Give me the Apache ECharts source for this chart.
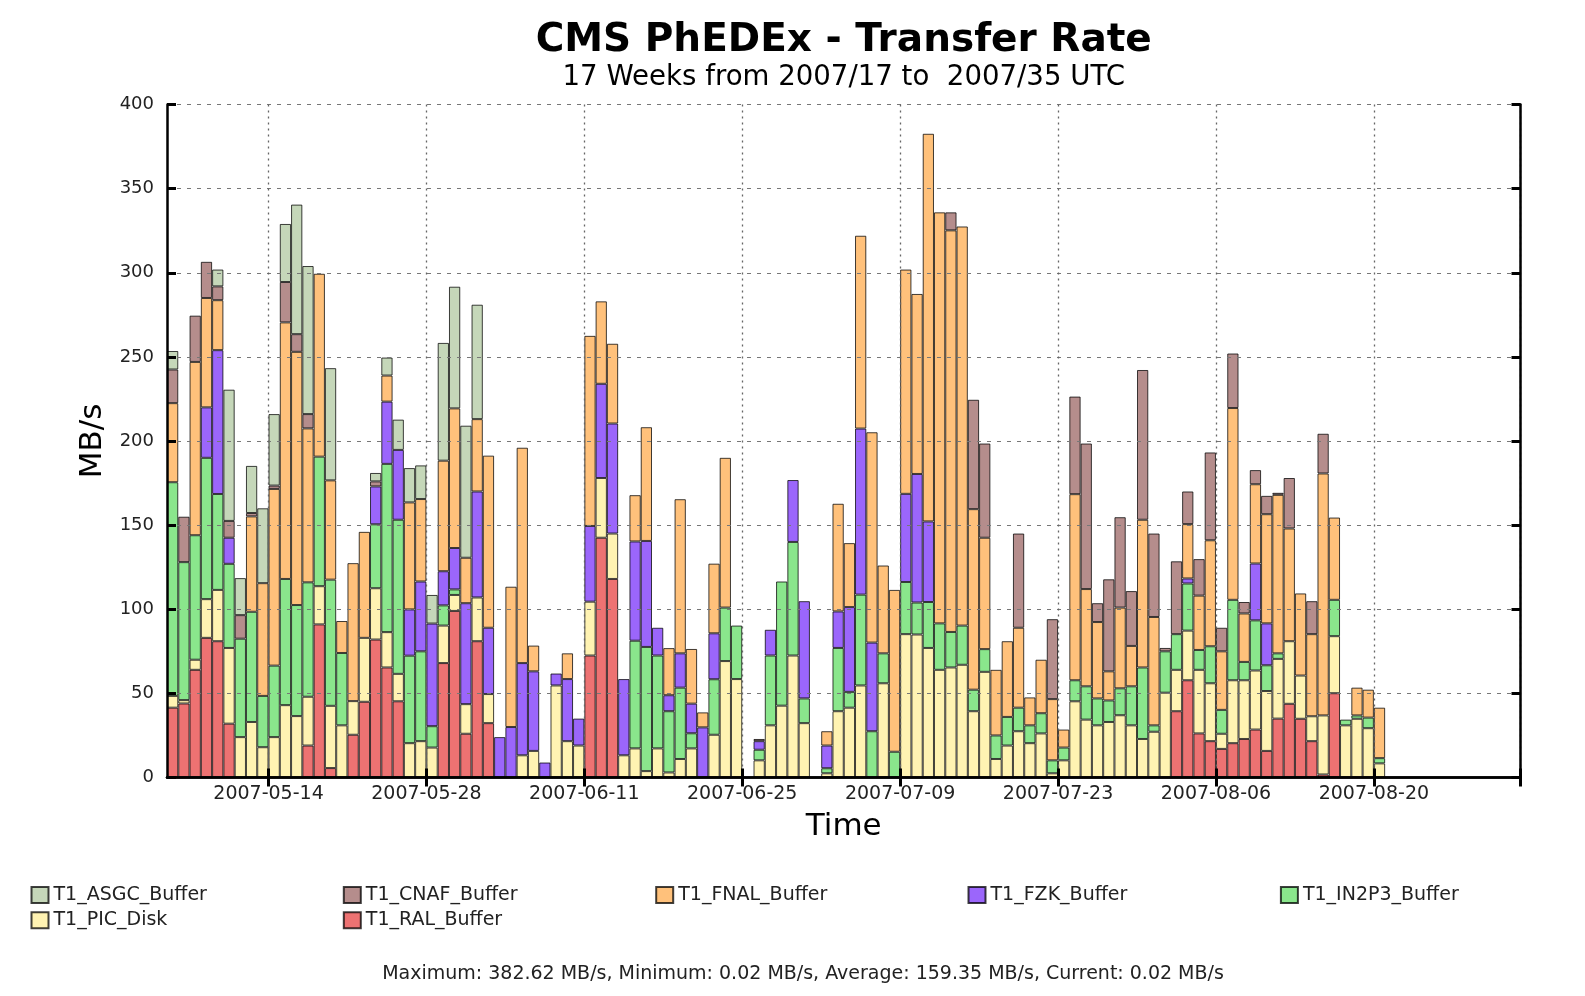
<!DOCTYPE html>
<html>
<head>
<meta charset="utf-8">
<title>CMS PhEDEx - Transfer Rate</title>
<script src="https://cdn.jsdelivr.net/npm/echarts@6/dist/echarts.min.js"></script>
<style>
  html, body { margin: 0; padding: 0; background: #fff; }
  #chart { width: 1585px; height: 996px; }
</style>
</head>
<body>
<div id="chart"></div>
<script>
// one bar per day, 2007-05-05 .. 2007-09-01
const firstDay = [2007, 4, 5];
const dayCount = 120;
const tickLabels = ['2007-05-14', '2007-05-28', '2007-06-11', '2007-06-25',
                    '2007-07-09', '2007-07-23', '2007-08-06', '2007-08-20'];
const legendNames = ['T1_ASGC_Buffer', 'T1_CNAF_Buffer', 'T1_FNAL_Buffer', 'T1_FZK_Buffer',
                     'T1_IN2P3_Buffer', 'T1_PIC_Disk', 'T1_RAL_Buffer'];
const footerText = 'Maximum: 382.62 MB/s, Minimum: 0.02 MB/s, Average: 159.35 MB/s, Current: 0.02 MB/s';

// MB/s per site, per day
const ral = [
  41.5, 44, 64, 83, 81, 32, 0, 0, 0, 0,
  0, 0, 19, 91, 5.6, 0, 25.4, 45, 82, 65.4,
  45.3, 0, 0, 0, 68, 99, 26, 81, 32.3, 0,
  0, 0, 0, 0, 0, 0, 0, 72.5, 142.5, 118,
  0, 0, 0, 0, 0, 0, 0, 0, 0, 0,
  0, 0, 0, 0, 0, 0, 0, 0, 0, 0,
  0, 0, 0, 0, 0, 0, 0, 0, 0, 0,
  0, 0, 0, 0, 0, 0, 0, 0, 0, 0,
  0, 0, 0, 0, 0, 0, 0, 0, 0, 39.4,
  57.8, 26.2, 21.6, 17, 20.4, 22.9, 28.5, 15.8, 35, 43.8,
  34.9, 21.6, 1.8, 50.1, 0, 0, 0, 0, 0, 0,
  0, 0, 0, 0, 0, 0, 0, 0, 0, 0
];
const pic = [
  7, 2, 6, 23, 30.5, 45, 24, 33, 18, 24,
  43, 36.5, 29, 22.7, 37, 31, 20, 38, 30.5, 21,
  16.3, 20.4, 21.6, 17.8, 22.3, 9.5, 17.6, 26, 17.3, 0,
  0, 13.2, 15.8, 0, 54.7, 21.6, 19, 32, 35.5, 27,
  13.2, 17.3, 3.8, 17.3, 3, 11, 17.3, 0, 25.4, 69.2,
  58.5, 0, 10.2, 31, 42.7, 72.5, 32.3, 0.02, 2.5, 39.4,
  41.5, 54.7, 0, 56, 0, 85.2, 85, 77, 64, 65.4,
  67, 39.4, 62.8, 11, 19, 27.5, 20.4, 26.2, 2.5, 10.2,
  45.3, 34.4, 31, 33, 37, 31, 22.9, 27.2, 50.4, 24.6,
  29.5, 37.8, 34.4, 9, 37.4, 34.9, 35.1, 35.6, 35.5, 37.2,
  25.7, 14.8, 35.1, 33.9, 31, 34.9, 29.3, 8.4, 0, 0,
  0, 0.02, 0, 0, 0, 0, 0, 0.02, 0.02, 0
];
const in2p3 = [
  127, 82, 74, 84, 57, 50, 58.5, 65.5, 30.5, 42.5,
  75, 66, 68, 77, 75, 43, 0, 0, 38, 100,
  91.6, 52, 53.4, 12.7, 12, 3.3, 0, 0, 0, 0,
  0, 0, 0, 0, 0, 0, 0, 0, 0, 0,
  0, 64, 73.8, 55.2, 36.4, 42.4, 9, 0, 33, 31.8,
  31.8, 0, 6.3, 41.5, 73.8, 67.5, 14.7, 0, 3, 37.6,
  9.4, 54, 27.5, 17.8, 15.3, 31, 19, 27.3, 27.6, 21.1,
  23.3, 12.8, 13.5, 14, 17, 14, 10.6, 12, 7.7, 7.6,
  12.5, 19.8, 16, 12.8, 16, 23.2, 42.5, 3.8, 24.6, 21.2,
  28, 11.8, 22, 14.2, 47.8, 10.9, 29.8, 15.3, 3.3, 0,
  0, 0, 0, 21.6, 3.4, 2, 6.3, 3.1, 0, 0,
  0, 0, 0, 0, 0, 0, 0, 0, 0, 0
];
const fzk = [
  0, 0, 0, 30, 85.5, 15.5, 0, 0, 0, 0,
  0, 0, 0, 0, 0, 0, 0, 0, 22.5, 37,
  41.5, 27.5, 41.5, 61, 20.3, 24.6, 60, 63, 39.4, 24,
  30, 54.8, 47.3, 8.9, 7.1, 36.9, 16, 45, 56, 65.4,
  45.3, 59, 63, 16.5, 9.5, 20.4, 17.6, 29.8, 27.3, 0,
  0, 0, 5.1, 15.3, 0, 36.8, 57.8, 0, 13.5, 21.7,
  50.4, 98.7, 52.7, 0, 0, 52.4, 76.4, 47.9, 0, 0,
  0, 0, 0, 0, 0, 0, 0, 0, 0, 0,
  0, 0, 0, 0, 0, 0, 0, 0, 0, 0,
  3, 0, 0, 0, 0, 0, 33.8, 24.9, 0, 0,
  0, 0, 0, 0, 0, 0, 0, 0, 0, 0,
  0, 0, 0, 0, 0, 0, 0, 0, 0, 0
];
const fnal = [
  47, 0, 103, 65, 29.7, 0, 0, 56.7, 67, 105,
  152.5, 150.5, 91.5, 108.7, 59, 19, 82, 63, 0, 15.5,
  0, 63.6, 49, 0, 65.7, 83, 27, 43, 102.3, 0,
  83.4, 128, 15.3, 0, 0, 15.3, 0, 113, 49, 47.4,
  0, 27.5, 67.6, 0, 28, 91.6, 32.5, 8.9, 41.4, 89,
  0, 0, 0, 0, 0, 0, 0, 0, 8.5, 64,
  38, 114.6, 125, 52.2, 96.2, 133.3, 107, 230.4, 244.3, 238.7,
  237.2, 107.3, 66.2, 39, 45, 47.5, 16.6, 31.8, 36.4, 10.7,
  110.6, 57.8, 45.4, 17.3, 48, 24, 87.8, 64.4, 0, 0,
  32.3, 32.3, 63, 34.8, 114, 28.8, 47.1, 64.9, 94.2, 67,
  48.8, 48.8, 143.8, 48.9, 0, 16.5, 16.6, 30, 0, 0,
  0, 0, 0, 0, 0, 0, 0, 0, 0, 0
];
const cnaf = [
  20, 27, 27.5, 21.5, 8.2, 10, 14, 2, 0, 2,
  24, 10.5, 8.5, 0, 0, 0, 0, 0, 3, 0,
  0, 0, 0, 0, 0, 0, 0, 0, 0, 0,
  0, 0, 0, 0, 0, 0, 0, 0, 0, 0,
  0, 0, 0, 0, 0, 0, 0, 0, 0, 0,
  0, 0, 1.3, 0, 0, 0, 0, 0, 0, 0,
  0, 0, 0, 0, 0, 0, 0, 0, 0, 10.7,
  0, 65, 56, 0, 0, 56, 0, 0, 47.5, 0,
  58, 86.5, 11.2, 54.7, 53.7, 32.6, 89, 49.6, 2, 43.3,
  19.4, 21.7, 52.2, 14, 32.4, 6.8, 8.4, 10.9, 1.2, 30,
  0, 19.6, 23.6, 0, 0, 0, 0, 0, 0, 0,
  0, 0, 0, 0, 0, 0, 0, 0, 0, 0
];
const asgc = [
  11, 0, 0, 0, 10, 78, 22, 28, 44.5, 42.5,
  34.5, 77, 88, 0, 66.7, 0, 0, 0, 5, 10.7,
  18, 20.4, 20, 17, 70, 72.3, 78.5, 68, 0, 0,
  0, 0, 0, 0, 0, 0, 0, 0, 0, 0,
  0, 0, 0, 0, 0, 0, 0, 0, 0, 0,
  0, 0, 0, 0, 0, 0, 0, 0, 0, 0,
  0, 0, 0, 0, 0, 0, 0, 0, 0, 0,
  0, 0, 0, 0, 0, 0, 0, 0, 0, 0,
  0, 0, 0, 0, 0, 0, 0, 0, 0, 0,
  0, 0, 0, 0, 0, 0, 0, 0, 0, 0,
  0, 0, 0, 0, 0, 0, 0, 0, 0, 0,
  0, 0, 0, 0, 0, 0, 0, 0, 0, 0
];

const categories = [];
const t0 = Date.UTC(firstDay[0], firstDay[1], firstDay[2]);
for (let i = 0; i < dayCount; i++) {
  categories.push(new Date(t0 + i * 86400000).toISOString().slice(0, 10));
}
const isTick = (idx) => tickLabels.indexOf(categories[idx]) >= 0;

// bottom of the stack first
const stack = [
  { name: 'T1_RAL_Buffer', data: ral, color: '#ed7272' },
  { name: 'T1_PIC_Disk', data: pic, color: '#fff3b2' },
  { name: 'T1_IN2P3_Buffer', data: in2p3, color: '#8ae68c' },
  { name: 'T1_FZK_Buffer', data: fzk, color: '#9b66fb' },
  { name: 'T1_FNAL_Buffer', data: fnal, color: '#ffc17b' },
  { name: 'T1_CNAF_Buffer', data: cnaf, color: '#b58d8c' },
  { name: 'T1_ASGC_Buffer', data: asgc, color: '#c5d7b9' }
];

const gridLeft = 167, gridTop = 104.5, gridWidth = 1353.5, gridHeight = 673;
const dayPx = gridWidth / dayCount;
const legendX = [30.5, 342.8, 655.2, 967.5, 1279.9];
const legendRowY = [896.6, 921.8];
const frame = { show: true, lineStyle: { color: '#000', width: 2.5 } };
const tick = { show: true, inside: true, length: 9, lineStyle: { color: '#000', width: 3 } };

const chart = echarts.init(document.getElementById('chart'));
chart.setOption({
  animation: false,
  backgroundColor: '#fff',
  textStyle: { fontFamily: 'DejaVu Sans' },
  title: [{
    text: 'CMS PhEDEx - Transfer Rate',
    left: gridLeft + gridWidth / 2, top: 21, textAlign: 'center', padding: 0,
    textStyle: { fontSize: 39, fontWeight: 'bold', color: '#000' }
  }, {
    text: '17 Weeks from 2007/17 to  2007/35 UTC',
    left: gridLeft + gridWidth / 2, top: 64, textAlign: 'center', padding: 0,
    textStyle: { fontSize: 27.6, fontWeight: 'normal', color: '#000' }
  }, {
    text: footerText,
    left: 803, top: 965, textAlign: 'center', padding: 0,
    textStyle: { fontSize: 19, fontWeight: 'normal', color: '#222' }
  }],
  legend: legendNames.map((n, i) => ({
    data: [n],
    left: legendX[i % 5],
    top: legendRowY[Math.floor(i / 5)] - 11,
    padding: 0,
    itemWidth: 17,
    itemHeight: 16,
    icon: 'rect',
    selectedMode: false,
    textStyle: { fontSize: 19, color: '#222' }
  })),
  grid: { left: gridLeft, top: gridTop, width: gridWidth, height: gridHeight, containLabel: false },
  xAxis: [{
    type: 'category', data: categories, position: 'bottom', z: 3,
    axisLine: frame,
    axisTick: Object.assign({ interval: isTick }, tick),
    axisLabel: {
      interval: isTick, fontSize: 19, color: '#222', margin: 7,
      padding: [0, dayPx, 0, 0]
    },
    splitLine: { show: false },
    name: 'Time', nameLocation: 'middle', nameGap: 34,
    nameTextStyle: { fontSize: 31, color: '#000' }
  }, {
    type: 'category', data: categories, position: 'top', z: 3,
    axisLine: frame,
    axisTick: Object.assign({ interval: isTick }, tick),
    axisLabel: { show: false },
    splitLine: { show: true, interval: isTick, lineStyle: { color: '#666', type: [2, 4], width: 1.3 } }
  }],
  yAxis: [{
    type: 'value', min: 0, max: 400, interval: 50, position: 'left', z: 3,
    axisLine: frame,
    axisTick: tick,
    axisLabel: { fontSize: 18, color: '#222', margin: 13 },
    splitLine: { show: false },
    name: 'MB/s', nameLocation: 'middle', nameGap: 49,
    nameTextStyle: { fontSize: 31, color: '#000' }
  }, {
    type: 'value', min: 0, max: 400, interval: 50, position: 'right', z: 3,
    axisLine: frame,
    axisTick: tick,
    axisLabel: { show: false },
    splitLine: { show: true, lineStyle: { color: '#777', type: [4, 6], width: 1.2 } }
  }],
  series: stack.map(s => ({
    name: s.name,
    type: 'bar',
    stack: 'rate',
    xAxisIndex: 0,
    yAxisIndex: 0,
    barCategoryGap: '0%',
    data: s.data.map(v => (v > 0 ? v : null)),
    itemStyle: { color: s.color, borderColor: 'rgba(0,0,0,0.75)', borderWidth: 1 },
    emphasis: { disabled: true }
  }))
});
</script>
</body>
</html>
